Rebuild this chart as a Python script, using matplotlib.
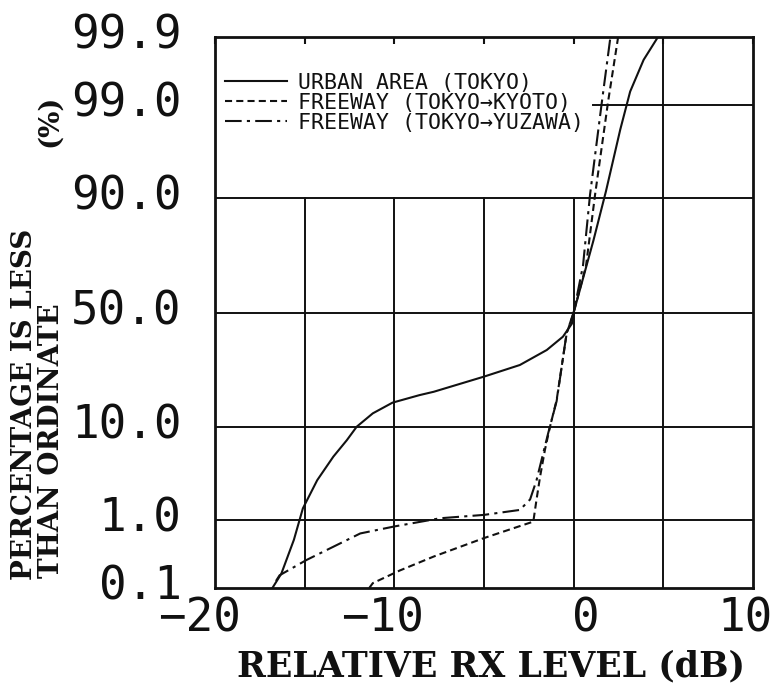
import numpy as np
import matplotlib
matplotlib.use("Agg")
import matplotlib.pyplot as plt
from matplotlib import transforms
from matplotlib.font_manager import FontProperties
from statistics import NormalDist

# ---------------- data ----------------
urban_db = [-16.8, -16.3, -15.6, -15.1, -14.3, -13.4, -12.65, -12.1, -11.2, -10.1,
            -8.6, -7.8, -5.0, -3.0, -1.5, -0.6, -0.1, 0.0, 1.1, 1.8, 2.6, 3.15, 3.9, 4.7]
urban_pct = [0.1, 0.17, 0.54, 1.4, 3.0, 5.3, 7.6, 10.0, 12.9, 15.6,
             17.7, 18.7, 23.6, 27.8, 33.7, 39.3, 45.0, 50.0, 79.0, 91.3, 98.0, 99.34, 99.77, 99.9]

kyoto_db = [-11.4, -11.2, -9.7, -7.8, -5.0, -2.8, -2.25, -2.07, -1.87, -1.6, -1.32,
            -0.95, -0.39, 0.0, 0.69, 1.19, 1.92, 2.48]
kyoto_pct = [0.1, 0.12, 0.19, 0.31, 0.57, 0.86, 0.95, 1.8, 3.3, 6.2, 10.0,
             16.3, 40.7, 50.0, 70.0, 90.6, 99.1, 99.9]

yuzawa_db = [-16.6, -16.4, -14.9, -11.9, -10.0, -7.45, -5.0, -3.0, -2.43, -2.07, -1.7,
             -1.42, -0.95, -0.39, 0.0, 0.52, 0.91, 1.57, 2.05]
yuzawa_pct = [0.13, 0.16, 0.275, 0.66, 0.82, 1.05, 1.16, 1.34, 1.8, 3.0, 5.7,
              8.8, 16.0, 41.0, 50.0, 70.0, 90.6, 99.08, 99.9]

series_labels = ["URBAN AREA (TOKYO)", "FREEWAY (TOKYO\u2192KYOTO)", "FREEWAY (TOKYO\u2192YUZAWA)"]

x_ticks = [-20, -15, -10, -5, 0, 5, 10]
x_ticklabels = ["\u221220", "", "\u221210", "", "0", "", "10"]
y_ticks = [0.1, 1, 10, 50, 90, 99, 99.9]
y_ticklabels = ["0.1", "1.0", "10.0", "50.0", "90.0", "99.0", "99.9"]

# ---------------- normal-probability scale ----------------
_nd = NormalDist()
_ppf = np.vectorize(_nd.inv_cdf, otypes=[float])
_cdf = np.vectorize(_nd.cdf, otypes=[float])


def prob_fwd(p):
    p = np.clip(np.asarray(p, dtype=float) / 100.0, 1e-9, 1 - 1e-9)
    return _ppf(p)


def prob_inv(z):
    return _cdf(np.asarray(z, dtype=float)) * 100.0


INK = "#111111"
W, H = 773, 689
fig = plt.figure(figsize=(W / 100, H / 100), dpi=100)
ax_l, ax_r, ax_t, ax_b = 215, 753, 37, 588
ax = fig.add_axes([ax_l / W, 1 - ax_b / H, (ax_r - ax_l) / W, (ax_b - ax_t) / H])

ax.set_xlim(-20, 10)
ax.set_yscale("function", functions=(prob_fwd, prob_inv))
ax.set_ylim(0.1, 99.9)

for s in ax.spines.values():
    s.set_linewidth(2.0)
    s.set_color(INK)

# ---------------- grid (legend area left blank like the original) ----------------
grid_kw = dict(color=INK, lw=1.4, zorder=1)
z_lo, z_hi = prob_fwd(0.1), prob_fwd(99.9)
frac90 = float((prob_fwd(90) - z_lo) / (z_hi - z_lo))
for v in [-15, -10, -5, 0]:
    ax.axvline(v, ymin=0, ymax=frac90, **grid_kw)
ax.axvline(5, **grid_kw)
for p in [1, 10, 50, 90]:
    ax.axhline(p, **grid_kw)
ax.axhline(99, xmin=(1.08 + 20) / 30, xmax=1, **grid_kw)

# ---------------- curves ----------------
ax.plot(urban_db, urban_pct, color=INK, lw=1.5, ls="-", label=series_labels[0], zorder=3)
ax.plot(kyoto_db, kyoto_pct, color=INK, lw=1.5, ls=(0, (3.4, 2.0)), label=series_labels[1], zorder=3)
ax.plot(yuzawa_db, yuzawa_pct, color=INK, lw=1.5, ls=(0, (8, 2.5, 1.5, 2.5)), label=series_labels[2], zorder=3)

# ---------------- ticks ----------------
tick_font = dict(family="DejaVu Sans Mono", size=33)
ax.set_xticks(x_ticks)
ax.set_xticklabels(x_ticklabels, fontdict=tick_font, color=INK)
ax.tick_params(axis="x", bottom=False, top=True, direction="in", length=5, width=1.5,
               color=INK, pad=6)
ax.set_yticks(y_ticks)
ax.set_yticklabels(y_ticklabels, fontdict=tick_font, color=INK)
ax.tick_params(axis="y", left=False, right=False, length=0, pad=24)
ax.minorticks_off()

x_label_shift_px = {"\u221220": -16, "\u221210": -12, "0": 12, "10": -8}
for lab in ax.get_xticklabels():
    dx = x_label_shift_px.get(lab.get_text(), 0)
    lab.set_transform(lab.get_transform() + transforms.ScaledTranslation(dx / 100, 0, fig.dpi_scale_trans))
for lab in ax.get_yticklabels():
    lab.set_transform(lab.get_transform() + transforms.ScaledTranslation(0, 6 / 100, fig.dpi_scale_trans))

# ---------------- legend ----------------
leg = ax.legend(loc="upper left", bbox_to_anchor=(10 / (ax_r - ax_l), (ax_b - 73) / (ax_b - ax_t)),
                frameon=False, prop=FontProperties(family="DejaVu Sans Mono", size=15.5),
                handlelength=2.9, handletextpad=0.5, labelspacing=0.0,
                borderpad=0, borderaxespad=0)
for t in leg.get_texts():
    t.set_color(INK)

# ---------------- axis titles ----------------
ylab_font = dict(family="DejaVu Serif", weight="bold", size=20, color=INK)
fig.text(25 / W, 1 - 580 / H, "PERCENTAGE IS LESS", rotation=90, ha="center", va="bottom", **ylab_font)
fig.text(52 / W, 1 - 578 / H, "THAN ORDINATE", rotation=90, ha="center", va="bottom", **ylab_font)
fig.text(49 / W, 1 - 147 / H, "(%)", rotation=90, ha="center", va="bottom", **ylab_font)
xlab_font = dict(family="DejaVu Serif", weight="bold", size=25, color=INK)
fig.text(491 / W, 1 - 666 / H, "RELATIVE RX LEVEL (dB)", ha="center", va="center", **xlab_font)

fig.savefig("out.png", dpi=100)
